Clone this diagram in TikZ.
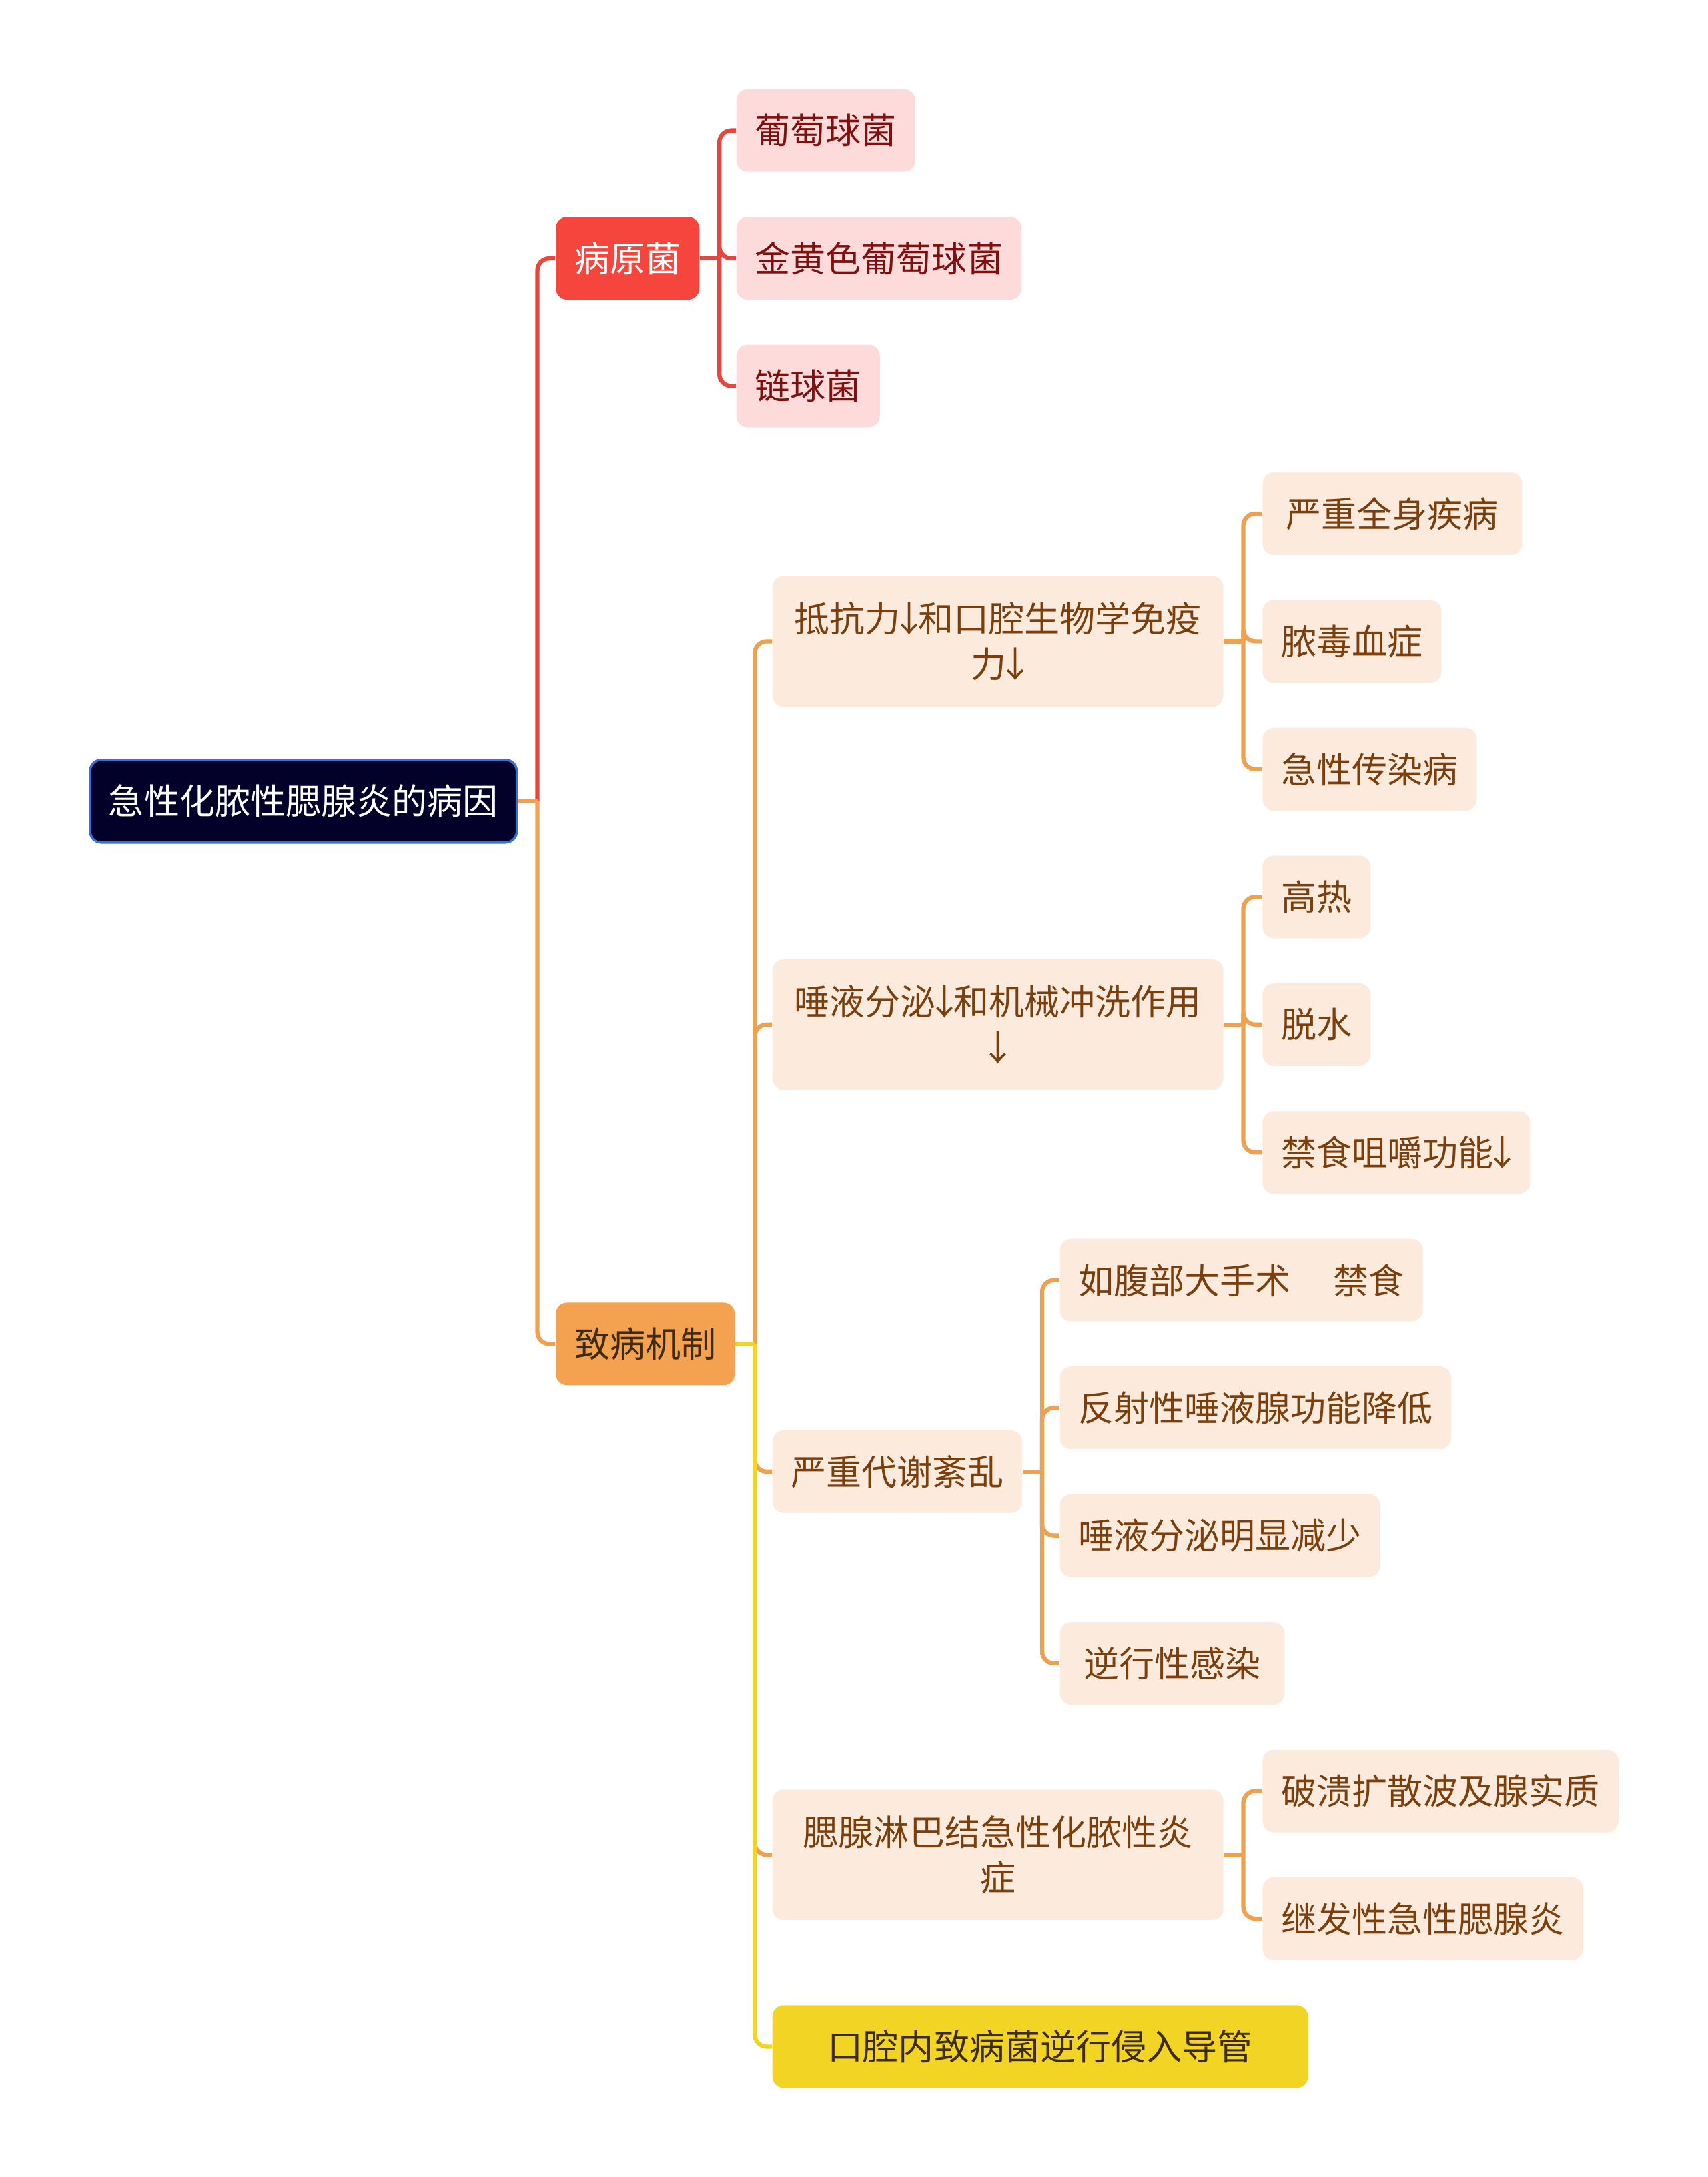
\documentclass[tikz,border=0pt]{standalone}
\usepackage{fontspec}
\setmainfont{Noto Sans CJK SC}
\usetikzlibrary{positioning}

\definecolor{rootfill}{HTML}{03012A}
\definecolor{rootline}{HTML}{3A6FD8}
\definecolor{redfill}{HTML}{F5453C}
\definecolor{redline}{HTML}{E8453D}
\definecolor{orangefill}{HTML}{F4A24F}
\definecolor{orangeline}{HTML}{EFA152}
\definecolor{yellowfill}{HTML}{F2D424}
\definecolor{pinkfill}{HTML}{FDDBDA}
\definecolor{pinktext}{HTML}{800F0F}
\definecolor{peachfill}{HTML}{FCEBDC}
\definecolor{peachtext}{HTML}{7A3F0D}
\definecolor{darktext}{HTML}{3D2B12}

\newcommand{\dn}{\makebox[0.5em][c]{↓}}

\tikzset{
  box/.style={rounded corners=0.17cm, minimum height=1.24cm, inner xsep=0.28cm,
    anchor=west, font=\fontsize{15.1}{19.5}\selectfont},
  rootbox/.style={box, fill=rootfill, draw=rootline, line width=1pt, text=white},
  redbox/.style={box, fill=redfill, text=white},
  orangebox/.style={box, fill=orangefill, text=darktext},
  yellowbox/.style={box, fill=yellowfill, text=darktext},
  pinkbox/.style={box, fill=pinkfill, text=pinktext},
  peachbox/.style={box, fill=peachfill, text=peachtext},
  widebox/.style={peachbox, text width=6.2cm, align=center, minimum height=1.96cm},
  link/.style={line width=1.8pt, rounded corners=0.18cm},
  redlink/.style={link, draw=redline},
  orangelink/.style={link, draw=orangeline},
  yellowlink/.style={link, draw=yellowfill}
}

\begin{document}
\begin{tikzpicture}[x=0.020813cm, y=-0.020813cm]
  \useasboundingbox (0,0) rectangle (1230,1568);

  % root and main branches
  \node[rootbox] (root) at (64,577) {急性化脓性腮腺炎的病因};
  \node[redbox] (bing) at (400,186) {病原菌};
  \node[orangebox] (zhi) at (400,968) {致病机制};

  % pathogens
  \node[pinkbox] (pu) at (530,94) {葡萄球菌};
  \node[pinkbox] (jin) at (530,186) {金黄色葡萄球菌};
  \node[pinkbox] (lian) at (530,278) {链球菌};

  % mechanism
  \node[widebox] (dk) at (556,462) {抵抗力\dn 和口腔生物学免疫\\力\dn};
  \node[widebox] (ty) at (556,738) {唾液分泌\dn 和机械冲洗作用\\\dn};
  \node[peachbox] (yz) at (556,1060) {严重代谢紊乱};
  \node[widebox] (sx) at (556,1336) {腮腺淋巴结急性化脓性炎\\症};
  \node[yellowbox, minimum width=8.03cm] (kq) at (556,1474) {口腔内致病菌逆行侵入导管};

  \node[peachbox, minimum width=3.89cm] (qs) at (909,370) {严重全身疾病};
  \node[peachbox] (ndx) at (909,462) {脓毒血症};
  \node[peachbox] (cr) at (909,554) {急性传染病};

  \node[peachbox] (gr) at (909,646) {高热};
  \node[peachbox] (ts) at (909,738) {脱水};
  \node[peachbox] (jj) at (909,830) {禁食咀嚼功能\dn};

  \node[peachbox] (ss) at (763,922) {如腹部大手术\hspace{1.2em}禁食};
  \node[peachbox] (fs) at (763,1014) {反射性唾液腺功能降低};
  \node[peachbox] (tm) at (763,1106) {唾液分泌明显减少};
  \node[peachbox, minimum width=3.37cm] (nx) at (763,1198) {逆行性感染};

  \node[peachbox] (pk) at (909,1290) {破溃扩散波及腺实质};
  \node[peachbox] (jf) at (909,1382) {继发性急性腮腺炎};

  % connectors
  \draw[redlink] (root.east) -- ++(14,0) coordinate (rootj);
  \draw[redlink] (rootj) |- (bing.west);
  \draw[orangelink] (rootj) |- (zhi.west);
  \draw[orangelink] (root.east) -- (rootj);

  \draw[redlink] (bing.east) -- ++(14,0) coordinate (bingj);
  \foreach \c in {pu,jin,lian}
    \draw[redlink] (bingj) |- (\c.west);

  \draw[orangelink] (zhi.east) -- ++(14,0) coordinate (zhij);
  \foreach \c in {dk,ty,yz,sx}
    \draw[orangelink] (zhij) |- (\c.west);
  \draw[yellowlink] (zhij) |- (kq.west);
  \draw[yellowlink] (zhi.east) -- (zhij);

  \foreach \p/\kids in {dk/{qs,ndx,cr}, ty/{gr,ts,jj}, yz/{ss,fs,tm,nx}, sx/{pk,jf}}{
    \draw[orangelink] (\p.east) -- ++(14,0) coordinate (\p j);
    \foreach \c in \kids
      \draw[orangelink] (\p j) |- (\c.west);
  }
\end{tikzpicture}
\end{document}
